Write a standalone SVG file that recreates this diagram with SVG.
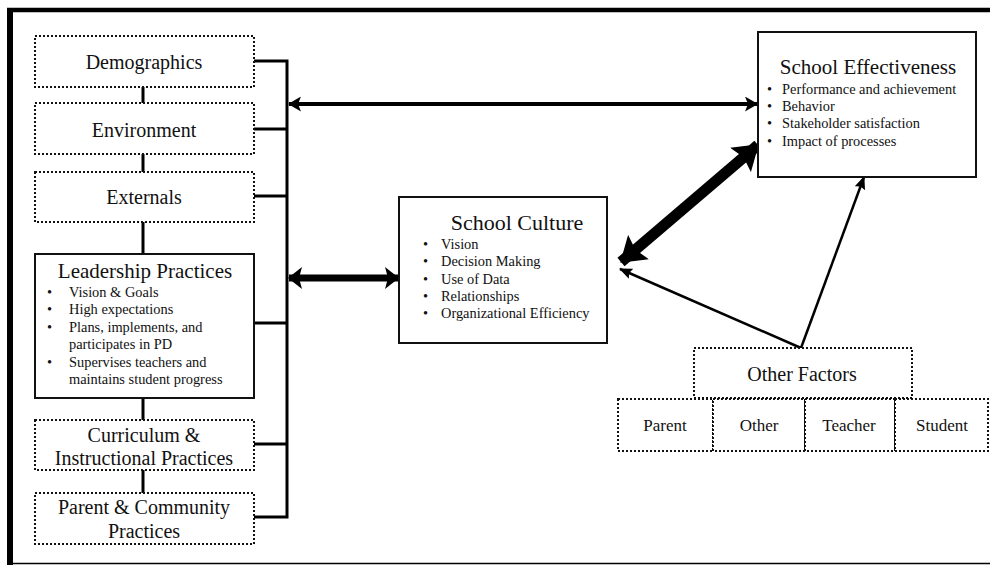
<svg xmlns="http://www.w3.org/2000/svg" width="990" height="565" viewBox="0 0 990 565" font-family="'Liberation Serif', 'Times New Roman', 'DejaVu Serif', serif">
<style>
text{font-family:'Liberation Serif','Times New Roman','DejaVu Serif',serif;fill:#111}
.t20{font-size:20px;text-anchor:middle}
.t22{font-size:22px;text-anchor:middle}
.t17{font-size:17px;text-anchor:middle}
.b{font-size:14.4px}
.dot{fill:#fff;stroke:#111;stroke-width:2;stroke-dasharray:2 2}
.solid{fill:#fff;stroke:#111;stroke-width:2}
.ln{stroke:#000;stroke-width:3;fill:none}
</style>
<defs>
<marker id="hA" markerUnits="userSpaceOnUse" viewBox="0 0 13 15" refX="12" refY="7.5" markerWidth="13" markerHeight="15" orient="auto-start-reverse"><path d="M0,0 L13,7.5 L0,15 L3,7.5 Z" fill="#000"/></marker>
<marker id="hB" markerUnits="userSpaceOnUse" viewBox="0 0 14 22" refX="13" refY="11" markerWidth="14" markerHeight="22" orient="auto-start-reverse"><path d="M0,0 L14,11 L0,22 L3,11 Z" fill="#000"/></marker>
<marker id="hC" markerUnits="userSpaceOnUse" viewBox="0 0 24 32" refX="23" refY="16" markerWidth="24" markerHeight="32" orient="auto-start-reverse"><path d="M0,0 L24,16 L0,32 L4,16 Z" fill="#000"/></marker>
<marker id="hD" markerUnits="userSpaceOnUse" viewBox="0 0 13 11" refX="12" refY="5.5" markerWidth="13" markerHeight="11" orient="auto"><path d="M0,0 L13,5.5 L0,11 L2,5.5 Z" fill="#000"/></marker>
</defs>
<rect width="990" height="565" fill="#fff"/>
<g id="frame" stroke="#000">
<line x1="7" y1="10" x2="990" y2="10" stroke-width="4.5"/>
<line x1="10" y1="8" x2="10" y2="565" stroke-width="6"/>
<line x1="10" y1="563.5" x2="990" y2="563.5" stroke-width="1.5"/>
</g>
<g id="connectors">
<path class="ln" d="M143,87 V103 M143,154 V172 M143,222 V254 M143,398 V420 M143,470 V493"/>
<path class="ln" d="M254,61 H287 V517 H254 M254,129 H287 M254,196 H287 M254,323 H287 M254,444 H287"/>
<line x1="289" y1="104" x2="757" y2="104" stroke="#000" stroke-width="4" marker-start="url(#hA)" marker-end="url(#hA)"/>
<line x1="289" y1="278" x2="398" y2="278" stroke="#000" stroke-width="7" marker-start="url(#hB)" marker-end="url(#hB)"/>
<line x1="621" y1="262" x2="758" y2="145" stroke="#000" stroke-width="11" marker-start="url(#hC)" marker-end="url(#hC)"/>
<path d="M801,348 L620,269" stroke="#000" stroke-width="2.5" fill="none" marker-end="url(#hD)"/>
<path d="M801,348 L864,177" stroke="#000" stroke-width="2.5" fill="none" marker-end="url(#hD)"/>
</g>
<g id="demographics"><rect class="dot" x="35" y="36" width="219" height="51"/><text class="t20" x="144" y="69">Demographics</text></g>
<g id="environment"><rect class="dot" x="35" y="103" width="219" height="51"/><text class="t20" x="144" y="137">Environment</text></g>
<g id="externals"><rect class="dot" x="35" y="172" width="219" height="50"/><text class="t20" x="144" y="204">Externals</text></g>
<g id="leadership">
<rect class="solid" x="35" y="254" width="219" height="144"/>
<text x="145" y="278" font-size="21" text-anchor="middle">Leadership Practices</text>
<g class="b">
<text x="47" y="297">•</text><text x="69" y="297">Vision &amp; Goals</text>
<text x="47" y="314">•</text><text x="69" y="314">High expectations</text>
<text x="47" y="332">•</text><text x="69" y="332">Plans, implements, and</text>
<text x="69" y="349">participates in PD</text>
<text x="47" y="367">•</text><text x="69" y="367">Supervises teachers and</text>
<text x="69" y="384">maintains student progress</text>
</g>
</g>
<g id="curriculum"><rect class="dot" x="35" y="420" width="219" height="50"/><text class="t20" x="144" y="442">Curriculum &amp;</text><text class="t20" x="144" y="465">Instructional Practices</text></g>
<g id="parent-community"><rect class="dot" x="35" y="493" width="219" height="51"/><text class="t20" x="144" y="514">Parent &amp; Community</text><text class="t20" x="144" y="538">Practices</text></g>
<g id="school-culture">
<rect class="solid" x="399" y="197" width="208" height="146"/>
<text class="t22" x="517" y="230">School Culture</text>
<g class="b">
<text x="423" y="249">•</text><text x="441" y="249">Vision</text>
<text x="423" y="266">•</text><text x="441" y="266">Decision Making</text>
<text x="423" y="284">•</text><text x="441" y="284">Use of Data</text>
<text x="423" y="301">•</text><text x="441" y="301">Relationships</text>
<text x="423" y="318">•</text><text x="441" y="318">Organizational Efficiency</text>
</g>
</g>
<g id="school-effectiveness">
<rect class="solid" x="758" y="32" width="218" height="145"/>
<text x="868" y="74" font-size="21" text-anchor="middle">School Effectiveness</text>
<g class="b">
<text x="767" y="94">•</text><text x="782" y="94">Performance and achievement</text>
<text x="767" y="111">•</text><text x="782" y="111">Behavior</text>
<text x="767" y="128">•</text><text x="782" y="128">Stakeholder satisfaction</text>
<text x="767" y="146">•</text><text x="782" y="146">Impact of processes</text>
</g>
</g>
<g id="other-factors"><rect class="dot" x="694" y="348" width="218" height="50"/><text class="t20" x="802" y="381">Other Factors</text></g>
<g id="parent"><rect class="dot" x="618" y="399" width="95" height="52"/><text class="t17" x="665" y="431">Parent</text></g>
<g id="other"><rect class="dot" x="713" y="399" width="92" height="52"/><text class="t17" x="759" y="431">Other</text></g>
<g id="teacher"><rect class="dot" x="805" y="399" width="90" height="52"/><text class="t17" x="849" y="431">Teacher</text></g>
<g id="student"><rect class="dot" x="895" y="399" width="93" height="52"/><text class="t17" x="942" y="431">Student</text></g>
</svg>
